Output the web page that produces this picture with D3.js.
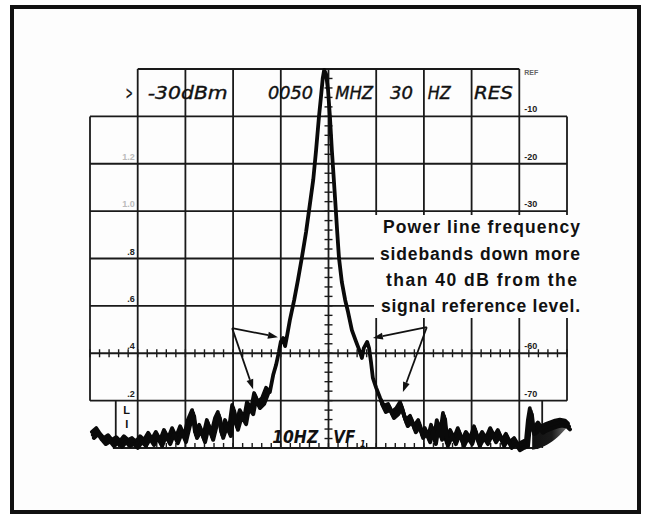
<!DOCTYPE html>
<html><head><meta charset="utf-8">
<script src="https://cdn.jsdelivr.net/npm/d3@7"></script>
<style>body{margin:0;background:#fff}svg{display:block}</style>
</head><body>
<script>
// ---- data ----
const traceHz = [-49.6,-48.7,-47.9,-47.1,-46.2,-45.4,-44.5,-43.7,-42.9,-42.0,-41.2,-40.4,-39.5,-38.7,-37.8,-37.0,-36.2,-35.3,-34.5,-33.6,-32.8,-32.0,-31.1,-30.3,-29.5,-28.6,-28.0,-27.1,-26.3,-25.5,-24.6,-23.8,-23.2,-22.5,-21.7,-20.9,-20.2,-19.4,-18.6,-17.7,-17.1,-16.2,-15.6,-14.8,-13.9,-13.1,-12.3,-11.6,-11.0,-10.4,-10.0,-9.5,-9.1,-8.7,-8.1,-7.2,-6.4,-5.6,-4.7,-4.1,-3.2,-2.6,-2.0,-1.6,-1.2,-0.9,-0.5,-0.1,0.3,0.7,0.9,1.4,1.8,2.2,2.8,3.5,4.1,4.9,5.8,6.6,7.0,7.4,8.1,8.5,8.9,9.3,10.0,10.8,11.6,12.5,13.3,14.2,15.0,15.6,16.2,17.1,17.9,18.8,19.4,20.2,20.9,21.5,22.1,22.7,23.4,24.0,24.6,25.5,26.3,27.1,28.0,28.8,29.7,30.5,31.3,32.2,33.0,33.9,34.7,35.5,36.4,37.2,38.0,38.9,39.7,40.6,41.4,41.8,42.2,42.7,43.3,43.9,44.5,45.4,46.4,47.5,48.5,49.6,50.2];
const traceDb = [-76.6,-75.8,-77.0,-77.9,-77.3,-78.3,-77.7,-78.5,-77.5,-78.3,-77.9,-78.7,-77.5,-78.3,-76.8,-78.1,-76.6,-78.3,-76.2,-77.9,-75.8,-77.7,-75.4,-77.5,-74.1,-72.0,-76.6,-75.1,-77.5,-74.1,-77.0,-73.7,-72.4,-76.6,-74.1,-76.2,-70.9,-74.9,-72.0,-73.7,-70.3,-71.6,-68.4,-70.3,-69.4,-67.3,-68.2,-64.6,-62.5,-59.7,-57.6,-56.8,-58.5,-56.4,-53.0,-48.8,-44.5,-39.9,-34.4,-30.0,-23.4,-17.1,-10.1,-6.1,-1.9,-0.2,-1.1,-4.4,-10.1,-17.1,-20.1,-27.7,-34.0,-39.9,-45.0,-48.8,-51.3,-55.1,-57.6,-59.7,-61.0,-58.9,-57.6,-58.9,-61.8,-65.2,-67.3,-69.4,-71.1,-70.7,-72.4,-71.6,-70.3,-72.4,-74.1,-73.2,-75.4,-74.1,-76.6,-75.8,-77.5,-75.1,-77.9,-74.1,-77.0,-72.6,-78.3,-76.2,-77.9,-75.8,-78.3,-76.6,-77.9,-75.4,-78.3,-76.6,-77.9,-75.8,-77.5,-76.2,-78.3,-77.0,-78.7,-77.9,-79.2,-78.7,-78.3,-74.1,-71.6,-75.8,-75.4,-74.6,-75.5,-75.0,-74.6,-74.2,-74.0,-74.2,-74.8];
const gridHz = [-50,-40,-30,-20,-10,0,10,20,30,40,50];
const gridDb = [0,-10,-20,-30,-40,-50,-60,-70,-80];
const rightLabels = ["REF","-10","-20","-30","-60","-70"];
const rightLabelDb = [0,-10,-20,-30,-60,-70];
const leftLabels = ["1.2","1.0",".8",".6",".4",".2"];
const leftLabelDb = [-20,-30,-40,-50,-60,-70];
const headerWords = [">","-30dBm","0050","MHZ","30","HZ","RES"];
const headerWordHz = [-42.5,-37.9,-12.7,1.4,12.9,20.8,30.5];
const headerWordLen = [7,80,45,38,23,23,39];
const noteLines = ["Power line frequency","sidebands down more","than 40 dB from the","signal reference level."];
const arrowsFrom = [[-20.2,-54.7],[-20.2,-54.7],[20.6,-54.5],[20.6,-54.5]];
const arrowsTo = [[-10.6,-56.6],[-15.8,-67.6],[9.3,-56.8],[15.6,-68.2]];

// ---- drawing ----
const W = 651, H = 521;
const svg = d3.select("body").append("svg").attr("width", W).attr("height", H);
svg.append("rect").attr("width", W).attr("height", H).attr("fill", "#fff");
svg.append("rect").attr("x", 12).attr("y", 7).attr("width", 627).attr("height", 505)
  .attr("fill", "#fdfdfd").attr("stroke", "#111").attr("stroke-width", 4);

const x = d3.scaleLinear().domain([-50, 50]).range([90, 567]);
const y = d3.scaleLinear().domain([0, -80]).range([69, 448]);

const g = svg.append("g").attr("stroke", "#1a1a1a").attr("stroke-width", 1.8).attr("fill", "none");
function ln(x1, y1, x2, y2, w) {
  const l = g.append("line").attr("x1", x1).attr("y1", y1).attr("x2", x2).attr("y2", y2);
  if (w) l.attr("stroke-width", w);
  return l;
}
gridDb.forEach(d => {
  if (d === 0) ln(x(-40), y(d), x(40), y(d));
  else if (d > -80) ln(x(-50), y(d), x(50), y(d));
});
ln(x(-45.2), y(-80), x(44), y(-80));
gridHz.forEach(h => {
  if (h === -50 || h === 50) ln(x(h), y(-10), x(h), y(-70));
  else if (h === -40) ln(x(h), y(0), x(h), y(-78.2));
  else ln(x(h), y(0), x(h), y(-80));
});
ln(x(-44.6), y(-70), x(-44.6), y(-78.2));
ln(x(-44.6), y(-78.2), x(-40), y(-78.2));
ln(x(44.8), y(-70), x(44.8), y(-80));

d3.range(0, -80.1, -2).forEach(d => ln(x(0) - 4, y(d), x(0) + 4, y(d), 1.4));
d3.range(-50, 50.1, 2).forEach(h => ln(x(h), y(-60) - 4, x(h), y(-60) + 4, 1.4));
d3.range(-44, 42.1, 2).forEach(h => ln(x(h), y(-80) - 5, x(h), y(-80), 1.4));

const lab = svg.append("g").attr("font-family", "Liberation Sans, Arial, sans-serif").attr("font-weight", "bold");
rightLabels.forEach((t, i) => {
  lab.append("text").attr("x", x(40) + 5).attr("y", y(rightLabelDb[i]) + (i === 0 ? 6 : -4))
    .attr("font-size", i === 0 ? 7 : 9).attr("fill", i === 0 ? "#666" : "#222").text(t);
});
leftLabels.forEach((t, i) => {
  lab.append("text").attr("x", x(-40) - 3).attr("y", y(leftLabelDb[i]) - 4)
    .attr("text-anchor", "end").attr("font-size", 9)
    .attr("fill", i < 2 ? "#bbb" : "#222").text(t);
});

const hd = svg.append("g").attr("font-family", "DejaVu Sans, sans-serif").attr("font-style", "italic")
  .attr("font-size", 18).attr("fill", "#111").attr("stroke", "#111").attr("stroke-width", 0.4);
headerWords.forEach((t, i) => {
  hd.append("text").attr("x", x(headerWordHz[i])).attr("y", 99)
    .attr("textLength", headerWordLen[i]).attr("lengthAdjust", "spacingAndGlyphs").text(t);
});

const bt = svg.append("g").attr("font-family", "DejaVu Sans, sans-serif").attr("font-style", "italic")
  .attr("font-weight", "bold").attr("font-size", 18).attr("fill", "#111");
bt.append("text").attr("x", x(-11.8)).attr("y", 443).attr("textLength", 46)
  .attr("lengthAdjust", "spacingAndGlyphs").text("10HZ");
bt.append("text").attr("x", x(1.0)).attr("y", 443).attr("textLength", 22)
  .attr("lengthAdjust", "spacingAndGlyphs").text("VF");
bt.append("text").attr("x", x(6.6)).attr("y", 447).attr("font-size", 8).text("1");

svg.append("rect").attr("x", 374).attr("y", 215).attr("width", 214).attr("height", 103).attr("fill", "#fdfdfd");
const nt = svg.append("g").attr("font-family", "Liberation Sans, Arial, sans-serif").attr("font-weight", "bold")
  .attr("font-size", 17.5).attr("fill", "#111");
const noteX = [383, 380, 386, 381], noteLen = [197, 200, 191, 199], noteY = [233, 260, 286, 312];
noteLines.forEach((t, i) => {
  nt.append("text").attr("x", noteX[i]).attr("y", noteY[i]).attr("textLength", noteLen[i])
    .attr("lengthAdjust", "spacing").text(t);
});

// dark blob at right end
const blobIdx = traceHz.map((h, i) => i).filter(i => traceHz[i] >= 42.7);
const grad = svg.append("defs").append("linearGradient").attr("id", "bg").attr("x1", "0").attr("x2", "1");
grad.append("stop").attr("offset", "0").attr("stop-color", "#111");
grad.append("stop").attr("offset", "0.55").attr("stop-color", "#1a1a1a");
grad.append("stop").attr("offset", "1").attr("stop-color", "#777");
const bottomDb = h => h > 42 ? -80.4 + Math.pow((h - 42) / 8.2, 2) * 5 : -80.4;
svg.append("path").datum(blobIdx)
  .attr("d", d3.area().x(i => x(traceHz[i])).y0(i => y(bottomDb(traceHz[i]))).y1(i => y(traceDb[i])).curve(d3.curveMonotoneX))
  .attr("fill", "url(#bg)");

// trace
const idx = d3.range(traceHz.length);
const lineGen = d3.line().x(i => x(traceHz[i])).y(i => y(traceDb[i]));
svg.append("path").datum(idx).attr("d", lineGen)
  .attr("fill", "none").attr("stroke", "#0a0a0a").attr("stroke-width", 3.8)
  .attr("stroke-linejoin", "round").attr("stroke-linecap", "round");
[3, 6].forEach(off => {
  const thick = d3.line().x(i => x(traceHz[i]) + off / 3).y(i => y(traceDb[i]) + off);
  [idx.filter(i => traceHz[i] < -13), idx.filter(i => traceHz[i] > 10)].forEach(seg => {
    svg.append("path").datum(seg).attr("d", thick)
      .attr("fill", "none").attr("stroke", "#0a0a0a").attr("stroke-width", 4)
      .attr("stroke-linejoin", "round").attr("stroke-linecap", "round");
  });
});

// L / I marker letters (drawn on top)
lab.raise();
lab.append("text").attr("x", x(-42.3)).attr("y", 414).attr("text-anchor", "middle")
  .attr("font-size", 11).attr("fill", "#111").text("L");
lab.append("text").attr("x", x(-42.3)).attr("y", 428).attr("text-anchor", "middle")
  .attr("font-size", 11).attr("fill", "#111").text("I");

const ag = svg.append("g");
arrowsFrom.forEach((f, i) => {
  const x1 = x(f[0]), y1 = y(f[1]), x2 = x(arrowsTo[i][0]), y2 = y(arrowsTo[i][1]);
  const a = Math.atan2(y2 - y1, x2 - x1), L = 10, w = 3.5;
  const bx = x2 - L * Math.cos(a), by = y2 - L * Math.sin(a);
  ag.append("line").attr("x1", x1).attr("y1", y1).attr("x2", bx).attr("y2", by)
    .attr("stroke", "#111").attr("stroke-width", 1.8);
  ag.append("path").attr("d", `M${x2},${y2}L${bx - w * Math.sin(a)},${by + w * Math.cos(a)}L${bx + w * Math.sin(a)},${by - w * Math.cos(a)}Z`)
    .attr("fill", "#111");
});
</script>
</body></html>
